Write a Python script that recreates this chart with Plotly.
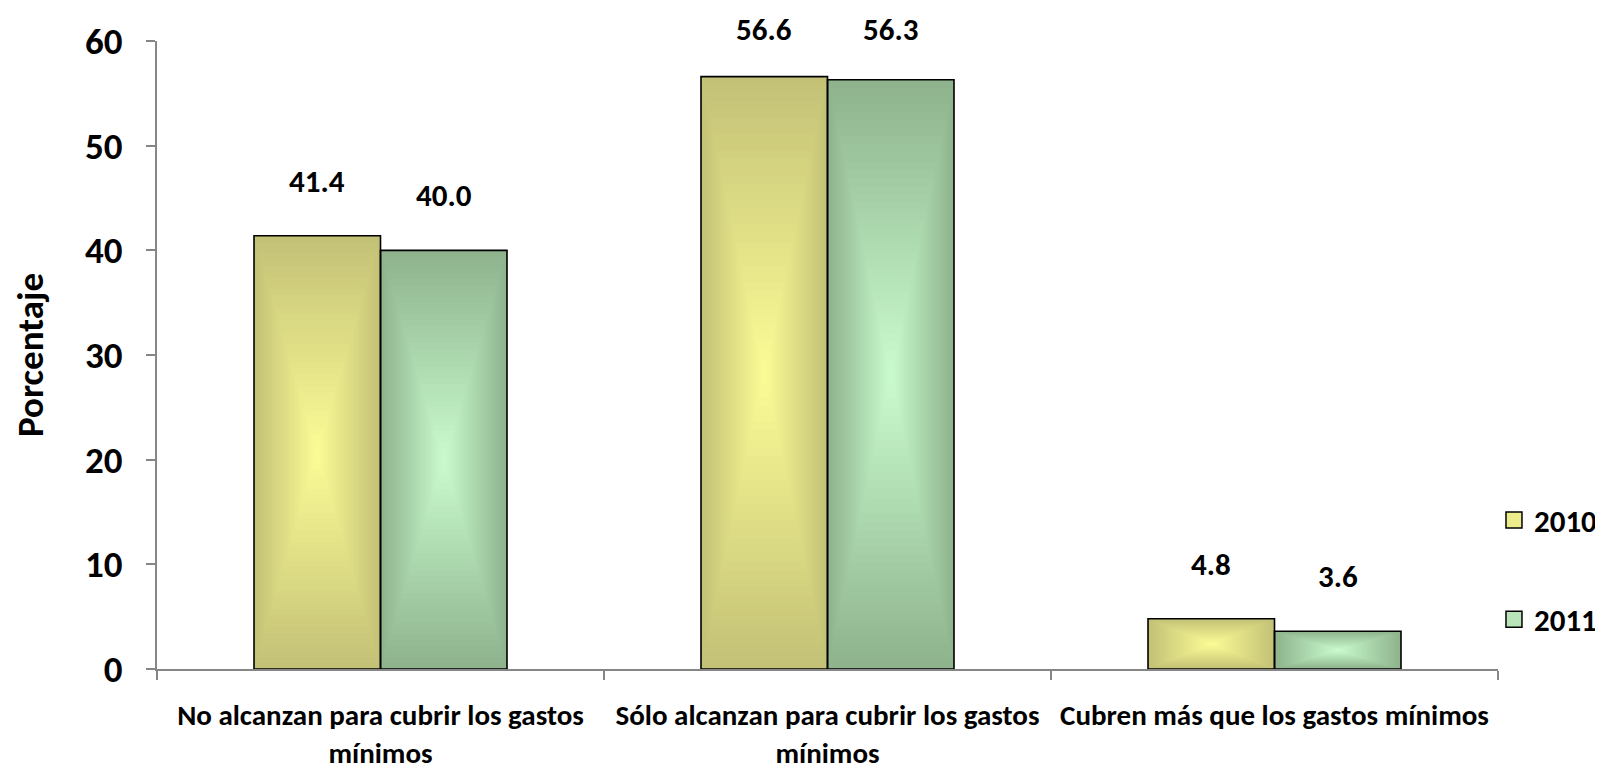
import numpy as np
import plotly.graph_objects as go

categories = [
    "No alcanzan para cubrir los gastos<br>mínimos",
    "Sólo alcanzan para cubrir los gastos<br>mínimos",
    "Cubren más que los gastos mínimos",
]
series_names = ["2010", "2011"]
values_2010 = [41.4, 56.6, 4.8]
values_2011 = [40.0, 56.3, 3.6]
y_ticks = [0, 10, 20, 30, 40, 50, 60]

series_values = [values_2010, values_2011]
edge_colors = [(195, 193, 118), (142, 179, 141)]
center_colors = [(251, 251, 150), (201, 250, 205)]
legend_colors = ["rgb(236,236,140)", "rgb(185,228,185)"]

FONT = "Carlito, 'Liberation Sans Narrow', 'Open Sans', sans-serif"
BAR_W = 0.283
N_LAYERS = 36

FIG_W, FIG_H = 1595, 765
M_T, M_B = 33, 104
Y_MAX = 60
PX_PER_UNIT = (FIG_H - M_T - M_B) / Y_MAX
LABEL_GAP = 55      # px between bar top and label centre
LABEL_MIN_TOP = 21  # label centre never closer than this to the figure top

fig = go.Figure()

# gradient fill: nested rectangles shrinking toward bar centre
for s, (name, vals) in enumerate(zip(series_names, series_values)):
    v = np.array(vals, dtype=float)
    off0 = -BAR_W if s == 0 else 0.0
    ec = np.array(edge_colors[s], dtype=float)
    cc = np.array(center_colors[s], dtype=float)
    for k in range(N_LAYERS):
        t = 1.0 - k / N_LAYERS
        f = k / (N_LAYERS - 1)
        col = ec + (cc - ec) * f
        color = "rgb(%d,%d,%d)" % tuple(np.round(col).astype(int))
        w = BAR_W * t
        fig.add_trace(go.Bar(
            x=categories, y=v * t, base=v * (1 - t) / 2,
            width=w, offset=off0 + (BAR_W - w) / 2,
            marker=dict(color=color, line=dict(width=0)),
            showlegend=False, hoverinfo="skip",
        ))

# outlines on top
for s, (name, vals) in enumerate(zip(series_names, series_values)):
    off0 = -BAR_W if s == 0 else 0.0
    fig.add_trace(go.Bar(
        x=categories, y=vals, width=BAR_W, offset=off0,
        marker=dict(color="rgba(0,0,0,0)", line=dict(width=1.6, color="black")),
        showlegend=False, hoverinfo="skip",
    ))

# legend entries
for s, name in enumerate(series_names):
    fig.add_trace(go.Scatter(
        x=[None], y=[None], mode="markers", name=name, legendgroup=name,
        marker=dict(symbol="square", size=16, color=legend_colors[s],
                    line=dict(width=1.5, color="black")),
    ))

# data labels
for s, vals in enumerate(series_values):
    for i, val in enumerate(vals):
        top_px = M_T + (Y_MAX - val) * PX_PER_UNIT
        shift = min(LABEL_GAP, top_px - LABEL_MIN_TOP)
        fig.add_annotation(
            x=i + (-BAR_W / 2 if s == 0 else BAR_W / 2), y=val,
            xref="x", yref="y", text="%.1f" % val, showarrow=False,
            yshift=shift, yanchor="middle",
            font=dict(family=FONT, size=31, color="black", weight="bold"),
        )

# page body has an 8px margin, so the figure is sized/positioned to compensate
fig.update_layout(
    width=FIG_W, height=FIG_H,
    margin=dict(l=149, r=105, t=M_T, b=M_B, autoexpand=False),
    barmode="overlay",
    plot_bgcolor="white", paper_bgcolor="white",
    showlegend=True,
    legend=dict(
        x=0.997, y=0.158, xanchor="left", yanchor="middle",
        font=dict(family=FONT, size=31, color="black", weight="bold"),
        tracegroupgap=56, itemwidth=30, bgcolor="rgba(0,0,0,0)",
    ),
)
fig.update_xaxes(
    type="category", range=[-0.5, 2.5], automargin=False,
    showline=True, linecolor="#868686", linewidth=2,
    ticks="outside", tickson="boundaries", ticklen=9, tickcolor="#868686", tickwidth=2,
    tickfont=dict(family=FONT, size=29, color="black", weight="bold"),
    ticklabelstandoff=19,
    showgrid=False, zeroline=False,
)
fig.update_yaxes(
    range=[0, Y_MAX], tickvals=y_ticks, automargin=False,
    showline=True, linecolor="#868686", linewidth=2,
    ticks="outside", ticklen=9, tickcolor="#868686", tickwidth=2,
    tickfont=dict(family=FONT, size=37, color="black", weight="bold"),
    ticklabelstandoff=16,
    showgrid=False, zeroline=False,
    title=dict(text="Porcentaje", standoff=36,
               font=dict(family=FONT, size=37, color="black", weight="bold")),
)

fig.write_html("out.html")
